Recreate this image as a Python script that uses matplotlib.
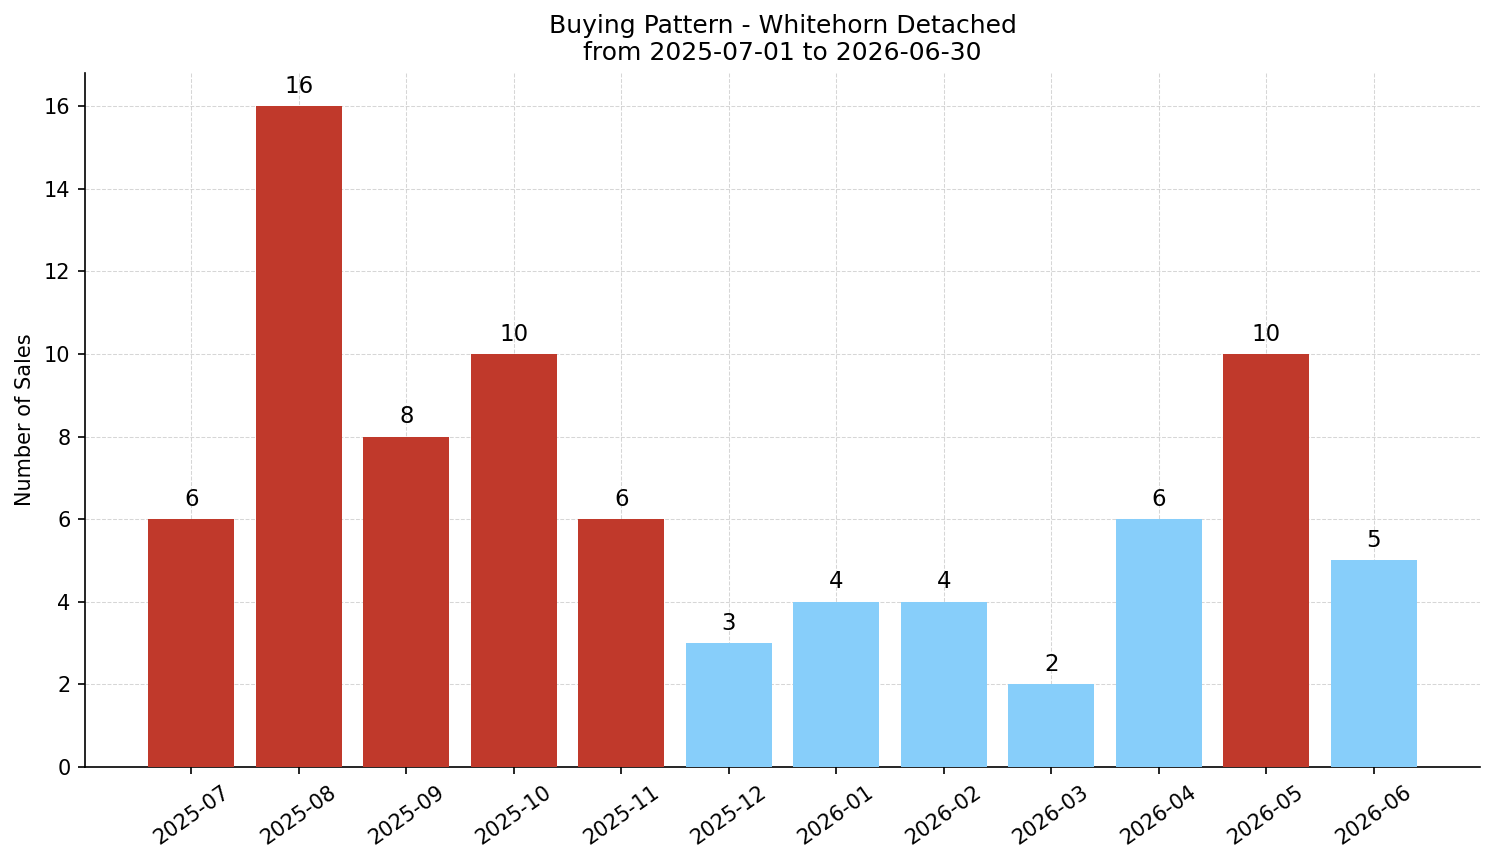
import matplotlib
matplotlib.use("Agg")
import matplotlib.pyplot as plt

months = ["2025-07", "2025-08", "2025-09", "2025-10", "2025-11", "2025-12",
          "2026-01", "2026-02", "2026-03", "2026-04", "2026-05", "2026-06"]
sales = [6, 16, 8, 10, 6, 3, 4, 4, 2, 6, 10, 5]
highlight = [True, True, True, True, True, False, False, False, False, False, True, False]

RED = "#C0392B"
BLUE = "#87CEFA"
colors = [RED if h else BLUE for h in highlight]

DPI = 150
fig = plt.figure(figsize=(1494 / DPI, 863 / DPI), dpi=DPI)
ax = fig.add_axes([85/1494, 1-767/863, (1480-85)/1494, (767-73)/863])

x = list(range(len(months)))
ax.bar(x, sales, width=0.8, color=colors, zorder=3)
for xi, v in zip(x, sales):
    ax.text(xi, v + 0.2, str(v), ha="center", va="bottom", fontsize=11)

ax.set_xticks(x)
ax.set_xticklabels(months, rotation=35, fontsize=10)
ax.tick_params(axis="y", labelsize=10)
ax.set_xlim(-0.99, 11.99)
ax.set_ylim(0, 16.8)
ax.set_yticks(range(0, 17, 2))
ax.set_ylabel("Number of Sales", fontsize=10)
ax.set_title("Buying Pattern - Whitehorn Detached\nfrom 2025-07-01 to 2026-06-30", fontsize=12)
ax.grid(True, linestyle="--", color="#cccccc", linewidth=0.5, alpha=0.8, zorder=0)
ax.spines["top"].set_visible(False)
ax.spines["right"].set_visible(False)

fig.savefig("out.png", dpi=DPI)
